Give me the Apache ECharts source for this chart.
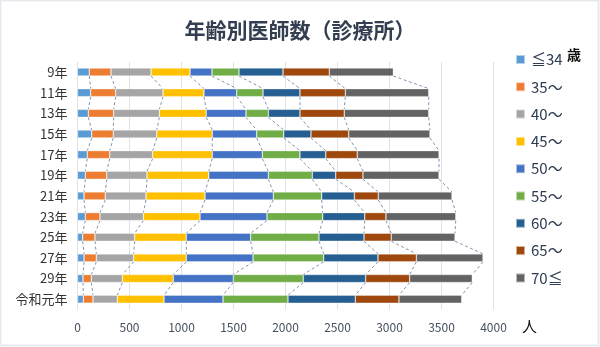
<!DOCTYPE html>
<html><head><meta charset="utf-8">
<script src="https://cdn.jsdelivr.net/npm/echarts@6/dist/echarts.min.js"></script>
<style>html,body{margin:0;padding:0;background:#fff}#c{width:600px;height:347px}</style>
</head><body><div id="c"></div>
<script>
const categories = ['9年','11年','13年','15年','17年','19年','21年','23年','25年','27年','29年','令和元年'];
const seriesNames = ['≦34','35～','40～','45～','50～','55～','60～','65～','70≦'];
const age34 = [113,127,104,137,94,75,63,75,50,63,53,56];
const age35 = [209,240,244,207,216,206,204,141,118,118,80,93];
const age40 = [385,455,439,418,413,387,392,417,382,359,298,234];
const age45 = [375,394,451,534,573,594,567,545,496,506,490,449];
const age50 = [211,315,382,427,481,573,657,644,619,642,577,567];
const age55 = [260,253,215,260,362,423,465,536,657,679,673,625];
const age60 = [423,355,304,262,248,225,314,404,433,522,600,647];
const age65 = [445,436,426,363,303,262,230,204,262,369,423,420];
const age70 = [616,802,812,781,786,731,709,671,613,641,602,603];
const xTicks = [0,500,1000,1500,2000,2500,3000,3500,4000];
const colors = ['#5B9BD5','#ED7D31','#A5A5A5','#FFC000','#4472C4','#70AD47','#255E91','#9E480E','#636363'];

const allSeries = [age34,age35,age40,age45,age50,age55,age60,age65,age70];
const BW = 8;
const conn = [];
for (let r = 0; r < categories.length - 1; r++) {
  let c1 = 0, c2 = 0;
  for (let k = 0; k < allSeries.length; k++) {
    c1 += allSeries[k][r]; c2 += allSeries[k][r + 1];
    conn.push([c1, r, c2]);
  }
}
const chart = echarts.init(document.getElementById('c'));
const series = seriesNames.map((n, i) => ({
  name: n, type: 'bar', stack: 'total', barWidth: BW,
  data: allSeries[i],
  itemStyle: { color: colors[i], borderColor: 'rgba(255,255,255,0.55)', borderWidth: 0.6 },
  emphasis: { disabled: true }
}));
series.push({
  type: 'custom', name: 'conn', silent: true, z: 1,
  encode: { x: [0, 2], y: 1 },
  data: conn,
  renderItem: function (params, api) {
    const p1 = api.coord([api.value(0), api.value(1)]);
    const p2 = api.coord([api.value(2), api.value(1) + 1]);
    return { type: 'line', shape: { x1: p1[0], y1: p1[1] + BW / 2, x2: p2[0], y2: p2[1] - BW / 2 },
      style: { stroke: '#7f93b0', lineWidth: 1, lineDash: [3, 2.5] } };
  }
});
chart.setOption({
  animation: false,
  textStyle: { fontFamily: '"Noto Sans CJK JP", "Noto Sans", sans-serif' },
  title: { text: '年齢別医師数（診療所）', left: 'center', top: 15,
    textStyle: { fontSize: 21, fontWeight: 'bold', color: '#333f50', fontFamily: '"Noto Sans CJK JP", sans-serif' } },
  legend: {
    orient: 'vertical', left: 510, top: 47, itemWidth: 9, itemHeight: 9, itemGap: 12.3,
    icon: 'rect', data: seriesNames,
    textStyle: { fontSize: 15, color: '#2f3d52', padding: [0, 0, 0, 1] }
  },
  grid: { left: 77.5, right: 106.5, top: 61.7, bottom: 37.5 },
  xAxis: {
    type: 'value', min: 0, max: 4000, interval: 500,
    axisLine: { show: false }, axisTick: { show: false },
    axisLabel: { fontSize: 12, color: '#44505f', margin: 12,
      formatter: v => xTicks.includes(v) ? String(v) : '' },
    splitLine: { lineStyle: { color: '#dfe3e8', width: 1 } }
  },
  yAxis: {
    type: 'category', data: categories, inverse: true,
    axisLine: { show: false }, axisTick: { show: false },
    axisLabel: { fontSize: 13, color: '#333', margin: 10 }
  },
  graphic: [
    { type: 'rect', shape: { x: 0.5, y: 0.5, width: 598, height: 345 }, style: { fill: 'none', stroke: '#e6e9ed', lineWidth: 2 }, silent: true },
    { type: 'text', left: 567, top: 48, style: { text: '歳', fontSize: 14, fontWeight: 'bold', fill: '#111', fontFamily: '"Noto Sans CJK JP", sans-serif' } },
    { type: 'text', left: 522, top: 319, style: { text: '人', fontSize: 15, fill: '#111', fontFamily: '"Noto Sans CJK JP", sans-serif' } }
  ],
  series: series
});
</script></body></html>
